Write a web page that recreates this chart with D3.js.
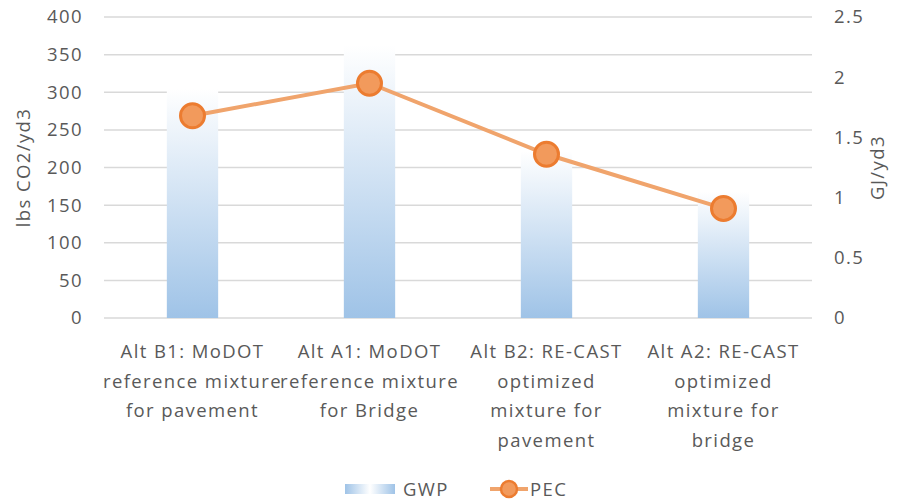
<!DOCTYPE html>
<html>
<head>
<meta charset="utf-8">
<script src="https://cdn.jsdelivr.net/npm/d3@7"></script>
<style>
  body { margin: 0; background: #fff; }
  svg text { font-family: 'Open Sans', sans-serif; fill: #595959; letter-spacing: 1.4px; }
</style>
</head>
<body>
<div id="graf"></div>
<script>
// datos
categorias = [
  ['Alt B1: MoDOT', 'reference mixture', 'for pavement'],
  ['Alt A1: MoDOT', 'reference mixture', 'for Bridge'],
  ['Alt B2: RE-CAST', 'optimized', 'mixture for', 'pavement'],
  ['Alt A2: RE-CAST', 'optimized', 'mixture for', 'bridge']
]
gwp = [305, 362, 222, 168]
pec = [1.68, 1.95, 1.36, 0.91]
ticksIzq = [0, 50, 100, 150, 200, 250, 300, 350, 400]
ticksDer = [0, 0.5, 1, 1.5, 2, 2.5]

ancho_total = 901
alto_total = 504
margins = { top: 17, left: 104, right: 89, bottom: 186 }
ancho = ancho_total - margins.left - margins.right
alto = alto_total - margins.top - margins.bottom

svg = d3.select('#graf').append('svg')
        .attr('width', ancho_total)
        .attr('height', alto_total)

defs = svg.append('defs')
grad = defs.append('linearGradient')
           .attr('id', 'azul')
           .attr('x1', 0).attr('y1', 0).attr('x2', 0).attr('y2', 1)
grad.append('stop').attr('offset', '0%').attr('stop-color', '#ffffff')
grad.append('stop').attr('offset', '100%').attr('stop-color', '#9fc3e7')

gradL = defs.append('linearGradient')
           .attr('id', 'azulLeyenda')
           .attr('x1', 0).attr('y1', 0).attr('x2', 1).attr('y2', 0)
gradL.append('stop').attr('offset', '0%').attr('stop-color', '#9fc3e7')
gradL.append('stop').attr('offset', '50%').attr('stop-color', '#ffffff')
gradL.append('stop').attr('offset', '100%').attr('stop-color', '#9fc3e7')

g = svg.append('g')
       .attr('transform', `translate(${margins.left}, ${margins.top})`)

x = d3.scaleBand()
      .domain(d3.range(categorias.length))
      .range([0, ancho])
      .paddingInner(0.71)
      .paddingOuter(0.355)

xc = d3.scaleBand()
       .domain(d3.range(categorias.length))
       .range([0, ancho])

y = d3.scaleLinear().domain([0, 400]).range([alto, 0])
y2 = d3.scaleLinear().domain([0, 2.5]).range([alto, 0])

// rejilla
g.selectAll('.grid')
  .data(ticksIzq)
  .enter().append('line')
    .attr('x1', 0).attr('x2', ancho)
    .attr('y1', d => y(d)).attr('y2', d => y(d))
    .style('stroke', '#d9d9d9')
    .style('stroke-width', 1.5)

// barras
g.selectAll('rect.barra')
  .data(gwp)
  .enter().append('rect')
    .attr('class', 'barra')
    .attr('x', (d, i) => x(i))
    .attr('width', x.bandwidth())
    .attr('y', d => y(d))
    .attr('height', d => alto - y(d))
    .style('fill', 'url(#azul)')

// ejes
yAxisCall = d3.axisLeft(y).tickValues(ticksIzq).tickSize(0).tickPadding(21)
ejeY = g.append('g').call(yAxisCall)
ejeY.select('.domain').remove()
ejeY.selectAll('text').style('font-size', '18.5px').attr('font-family', null)

y2AxisCall = d3.axisRight(y2).tickValues(ticksDer).tickSize(0).tickPadding(22)
  .tickFormat(d => d)
ejeY2 = g.append('g').attr('transform', `translate(${ancho}, 0)`).call(y2AxisCall)
ejeY2.select('.domain').remove()
ejeY2.selectAll('text').style('font-size', '18.5px').attr('font-family', null)

// etiquetas categorias
etiq = g.selectAll('.cat')
  .data(categorias)
  .enter().append('text')
    .attr('class', 'cat')
    .attr('text-anchor', 'middle')
    .style('font-size', '18.5px')
    .attr('transform', (d, i) => `translate(${xc(i) + xc.bandwidth() / 2}, ${alto + 40})`)
etiq.selectAll('tspan')
  .data(d => d)
  .enter().append('tspan')
    .attr('x', 0)
    .attr('y', (d, i) => i * 29.5)
    .text(d => d)

// titulos
svg.append('text')
   .attr('transform', `translate(30, ${margins.top + alto / 2}) rotate(-90)`)
   .attr('text-anchor', 'middle')
   .style('font-size', '18.5px')
   .text('lbs CO2/yd3')

svg.append('text')
   .attr('transform', `translate(884, ${margins.top + alto / 2}) rotate(-90)`)
   .attr('text-anchor', 'middle')
   .style('font-size', '18.5px')
   .text('GJ/yd3')

// linea PEC
linea = d3.line()
  .x((d, i) => xc(i) + xc.bandwidth() / 2)
  .y(d => y2(d))

g.append('path')
  .datum(pec)
  .attr('d', linea)
  .style('fill', 'none')
  .style('stroke', '#f0a46c')
  .style('stroke-width', 4)

g.selectAll('circle.pt')
  .data(pec)
  .enter().append('circle')
    .attr('class', 'pt')
    .attr('cx', (d, i) => xc(i) + xc.bandwidth() / 2)
    .attr('cy', d => y2(d))
    .attr('r', 12)
    .style('fill', '#f29a5c')
    .style('stroke', '#ec7c30')
    .style('stroke-width', 3)

// leyenda
ley = svg.append('g').attr('transform', 'translate(0, 490)')
ley.append('rect')
   .attr('x', 345).attr('y', -6).attr('width', 50).attr('height', 10)
   .style('fill', 'url(#azulLeyenda)')
ley.append('text').attr('x', 403).attr('y', 6).style('font-size', '18.5px').text('GWP')
ley.append('line')
   .attr('x1', 490).attr('x2', 528).attr('y1', -1).attr('y2', -1)
   .style('stroke', '#f0a46c').style('stroke-width', 4)
ley.append('circle')
   .attr('cx', 509).attr('cy', -1).attr('r', 8)
   .style('fill', '#f29a5c').style('stroke', '#ec7c30').style('stroke-width', 2.5)
ley.append('text').attr('x', 530).attr('y', 6).style('font-size', '18.5px').text('PEC')
</script>
</body>
</html>
